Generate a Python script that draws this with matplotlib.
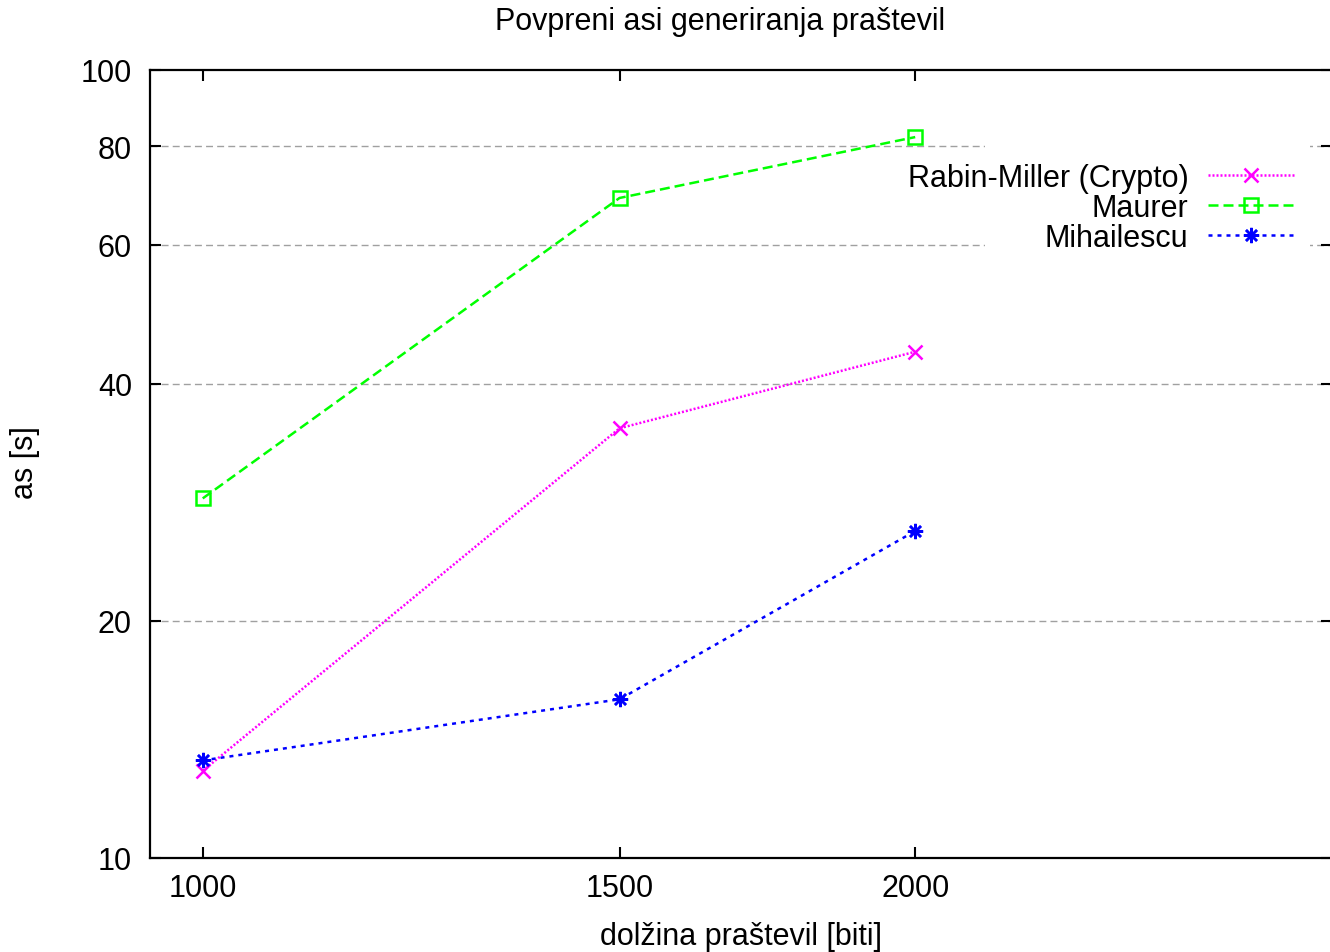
import matplotlib.pyplot as plt
from matplotlib.patches import Rectangle
from matplotlib.ticker import FixedLocator, FixedFormatter, NullLocator

plt.rcParams['font.family'] = ['Liberation Sans', 'DejaVu Sans']
plt.rcParams['font.size'] = 22

bits = [1000, 1500, 2000]
rabin = [12.9, 35.1, 43.9]
maurer = [28.6, 68.8, 82.2]
mihailescu = [13.3, 15.9, 26.0]

x_ticks = [1000, 1500, 2000]
y_ticks = [10, 20, 40, 60, 80, 100]
grid_vals = [20, 40, 60, 80]

W, H = 1330, 953
fig = plt.figure(figsize=(W / 100, H / 100), dpi=100)
# axes box in pixels: left 150, right ~1332 (off the image), top 71, bottom 859
ax = fig.add_axes([150 / W, 1 - 859 / H, (1332 - 150) / W, (859 - 71) / H])

ax.set_xscale('log')
ax.set_yscale('log')
ax.set_xlim(950, 3000)
ax.set_ylim(10, 100)

for v in grid_vals:
    ax.axhline(v, color='#a0a0a0', lw=1, ls=(0, (5, 3)), zorder=1)

# key background hides grid lines like gnuplot does
x0, y0 = ax.transAxes.inverted().transform(fig.transFigure.transform((985 / W, 1 - 252 / H)))
x1, y1 = ax.transAxes.inverted().transform(fig.transFigure.transform((1310 / W, 1 - 140 / H)))
ax.add_patch(Rectangle((x0, y0), x1 - x0, y1 - y0, transform=ax.transAxes,
                       facecolor='white', edgecolor='none', zorder=2))

lw = 1.8
ax.plot(bits, rabin, color='#ff00ff', lw=lw, ls=(0, (0.8, 0.8)), marker='x',
        ms=9.5, mew=1.8, label='Rabin-Miller (Crypto)', zorder=3)
ax.plot(bits, maurer, color='#00ff00', lw=lw, ls=(0, (4, 2)), marker='s',
        ms=9.5, mew=1.8, mfc='none', label='Maurer', zorder=3)
ax.plot(bits, mihailescu, color='#0000ff', lw=lw, ls=(0, (1.6, 2)), marker=(8, 2, 0),
        ms=11, mew=1.8, label='Mihailescu', zorder=3)

ax.xaxis.set_major_locator(FixedLocator(x_ticks))
ax.xaxis.set_major_formatter(FixedFormatter([str(t) for t in x_ticks]))
ax.xaxis.set_minor_locator(NullLocator())
ax.yaxis.set_major_locator(FixedLocator(y_ticks))
ax.yaxis.set_major_formatter(FixedFormatter([str(t) for t in y_ticks]))
ax.yaxis.set_minor_locator(NullLocator())

ax.tick_params(axis='both', which='major', direction='in', length=8, width=1.5,
               top=True, right=True, labelsize=22)
ax.tick_params(axis='y', pad=13)
ax.tick_params(axis='x', pad=11)
for s in ax.spines.values():
    s.set_linewidth(1.6)

leg = ax.legend(loc='upper right', bbox_to_anchor=(1294 / W, 1 - 164 / H),
                bbox_transform=fig.transFigure, frameon=False, markerfirst=False,
                handlelength=2.8, handletextpad=0.65, labelspacing=0.0,
                borderpad=0, borderaxespad=0, fontsize=22)

fig.text(720 / W, 1 - 22 / H, 'Povpreni asi generiranja praštevil', ha='center', va='center', fontsize=22)
fig.text(741 / W, 1 - 937 / H, 'dolžina praštevil [biti]', ha='center', va='center', fontsize=22)
fig.text(25 / W, 1 - 463 / H, 'as [s]', ha='center', va='center', rotation=90, fontsize=22)

fig.savefig('out.png', dpi=100)
